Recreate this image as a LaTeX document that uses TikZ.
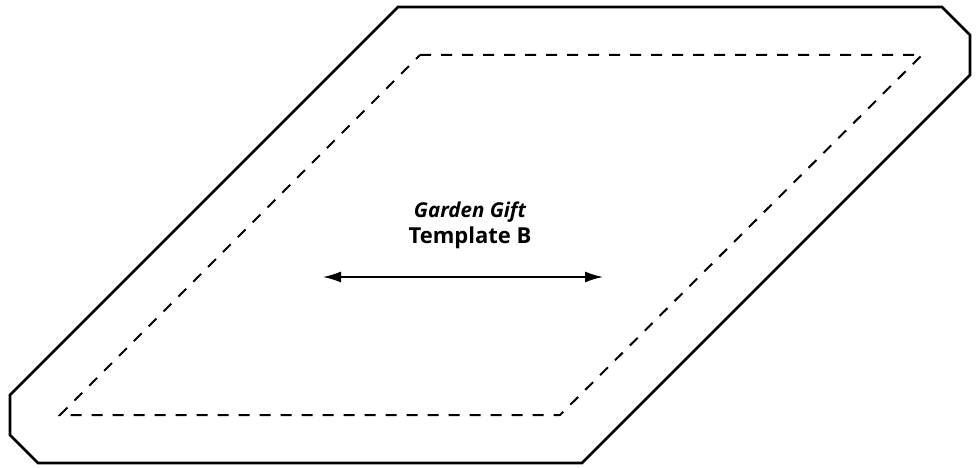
\documentclass[tikz,border=0pt]{standalone}
\usepackage{fontspec}
\setmainfont{Open Sans}
\usetikzlibrary{arrows.meta}
\tikzset{
  outline/.style={line width=2.8pt, line join=miter},
  seam/.style={line width=2pt, dash pattern=on 11pt off 10pt},
  grain/.style={line width=1.7pt, {Latex[length=18pt,width=11pt]}-{Latex[length=18pt,width=11pt]}},
  lbl/.style={inner sep=0pt, anchor=base}
}
\begin{document}
\begin{tikzpicture}[x=1pt,y=-1pt]
\useasboundingbox (0,0) rectangle (977,468);
\draw[outline] (398,7) -- (942,7) -- (970,35) -- (970,75) -- (582,463) -- (38,463) -- (10,435) -- (10,395) -- cycle;
\draw[seam] (420,55) -- (922,55) -- (560,415) -- (60,415) -- cycle;
\node[lbl, font=\bfseries\itshape\fontsize{20.5}{24}\selectfont] (title) at (470,217) {Garden Gift};
\node[lbl, font=\bfseries\fontsize{22}{26}\selectfont] (name) at (470,243) {Template B};
\coordinate (gl) at (323,277);
\coordinate (gr) at (603,277);
\draw[grain] (gl) -- (gr);
\end{tikzpicture}
\end{document}
